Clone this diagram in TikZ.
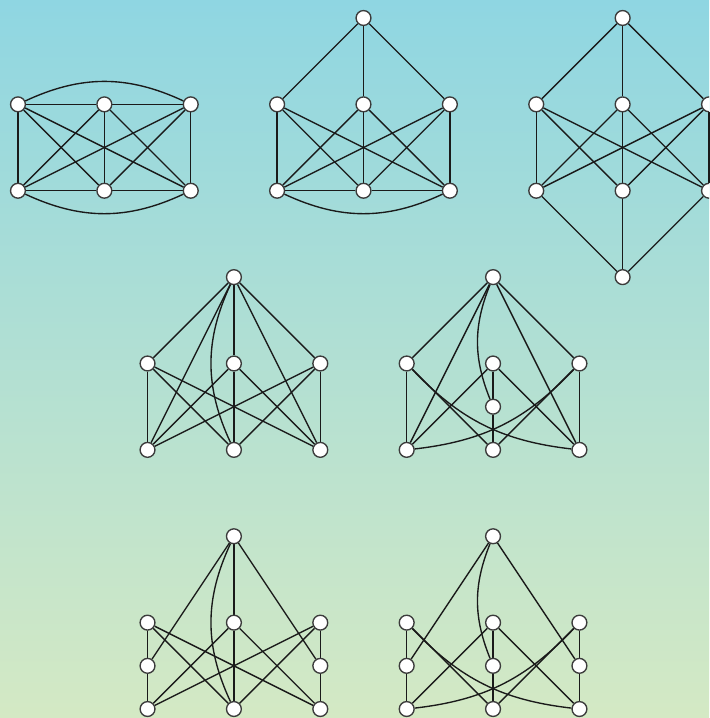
\documentclass[tikz,border=0pt]{standalone}
\usepackage{xcolor}
\usepackage{tikz}
\definecolor{skytop}{HTML}{8FD6E2}
\definecolor{meadow}{HTML}{D4E9C4}
\definecolor{ink}{HTML}{1A1A1A}
\pgfdeclarelayer{back}
\pgfdeclarelayer{edges}
\pgfsetlayers{back,edges,main}
\tikzset{
  vtx/.style={circle, draw=ink!85, line width=0.45pt, fill=white, inner sep=0pt, minimum size=1.72mm},
  edge/.style={draw=ink, line width=0.45pt}
}

\begin{document}
\begin{tikzpicture}
\useasboundingbox (-0.208,0.208) rectangle (8.0,-8.104);
\begin{pgfonlayer}{back}
\shade[top color=skytop, bottom color=meadow] (-0.208,0.208) rectangle (8.0,-8.104);
\end{pgfonlayer}
\clip (-0.208,0.208) rectangle (8.0,-8.104);

% first row: K6
\node[vtx] (a1) at (0,-1) {};
\node[vtx] (a2) at (1,-1) {};
\node[vtx] (a3) at (2,-1) {};
\node[vtx] (a4) at (0,-2) {};
\node[vtx] (a5) at (1,-2) {};
\node[vtx] (a6) at (2,-2) {};
\begin{pgfonlayer}{edges}
\foreach \u/\v in {a1/a2, a2/a3, a4/a5, a5/a6, a1/a4, a2/a5, a3/a6,
                   a1/a5, a1/a6, a2/a4, a2/a6, a3/a4, a3/a5}
  \draw[edge] (\u) -- (\v);
\draw[edge] (a1) to[bend left=25] (a3);
\draw[edge] (a4) to[bend right=25] (a6);
\end{pgfonlayer}

% apex over K33 with bottom triangle
\node[vtx] (b0) at (4,0) {};
\node[vtx] (b1) at (3,-1) {};
\node[vtx] (b2) at (4,-1) {};
\node[vtx] (b3) at (5,-1) {};
\node[vtx] (b4) at (3,-2) {};
\node[vtx] (b5) at (4,-2) {};
\node[vtx] (b6) at (5,-2) {};
\begin{pgfonlayer}{edges}
\foreach \u/\v in {b0/b1, b0/b2, b0/b3, b1/b4, b1/b5, b1/b6, b2/b4, b2/b5,
                   b2/b6, b3/b4, b3/b5, b3/b6, b4/b5, b5/b6}
  \draw[edge] (\u) -- (\v);
\draw[edge] (b4) to[bend right=25] (b6);
\end{pgfonlayer}

% K33 between two apexes
\node[vtx] (c0) at (7,0) {};
\node[vtx] (c1) at (6,-1) {};
\node[vtx] (c2) at (7,-1) {};
\node[vtx] (c3) at (8,-1) {};
\node[vtx] (c4) at (6,-2) {};
\node[vtx] (c5) at (7,-2) {};
\node[vtx] (c6) at (8,-2) {};
\node[vtx] (c7) at (7,-3) {};
\begin{pgfonlayer}{edges}
\foreach \u/\v in {c0/c1, c0/c2, c0/c3, c1/c4, c1/c5, c1/c6, c2/c4, c2/c5,
                   c2/c6, c3/c4, c3/c5, c3/c6, c4/c7, c5/c7, c6/c7}
  \draw[edge] (\u) -- (\v);
\end{pgfonlayer}

% second row
\node[vtx] (d0) at (2.5,-3) {};
\node[vtx] (d1) at (1.5,-4) {};
\node[vtx] (d2) at (2.5,-4) {};
\node[vtx] (d3) at (3.5,-4) {};
\node[vtx] (d4) at (1.5,-5) {};
\node[vtx] (d5) at (2.5,-5) {};
\node[vtx] (d6) at (3.5,-5) {};
\begin{pgfonlayer}{edges}
\foreach \u/\v in {d0/d1, d0/d2, d0/d3, d0/d4, d0/d6, d1/d4, d1/d5, d1/d6,
                   d2/d4, d2/d5, d2/d6, d3/d4, d3/d5, d3/d6}
  \draw[edge] (\u) -- (\v);
\draw[edge] (d0) to[bend right=25] (d5);
\end{pgfonlayer}

\node[vtx] (e0) at (5.5,-3) {};
\node[vtx] (e1) at (4.5,-4) {};
\node[vtx] (e2) at (5.5,-4) {};
\node[vtx] (e3) at (6.5,-4) {};
\node[vtx] (e7) at (5.5,-4.5) {};
\node[vtx] (e4) at (4.5,-5) {};
\node[vtx] (e5) at (5.5,-5) {};
\node[vtx] (e6) at (6.5,-5) {};
\begin{pgfonlayer}{edges}
\foreach \u/\v in {e0/e1, e0/e3, e0/e4, e0/e6, e1/e4, e1/e5, e2/e7, e7/e5,
                   e2/e4, e2/e6, e3/e6, e3/e5}
  \draw[edge] (\u) -- (\v);
\draw[edge] (e0) to[bend right=22] (e7);
\draw[edge] (e1) to[bend right=20] (e6);
\draw[edge] (e3) to[bend left=20] (e4);
\end{pgfonlayer}

% third row
\node[vtx] (f0) at (2.5,-6) {};
\node[vtx] (f1) at (1.5,-7) {};
\node[vtx] (f2) at (2.5,-7) {};
\node[vtx] (f3) at (3.5,-7) {};
\node[vtx] (f7) at (1.5,-7.5) {};
\node[vtx] (f8) at (3.5,-7.5) {};
\node[vtx] (f4) at (1.5,-8) {};
\node[vtx] (f5) at (2.5,-8) {};
\node[vtx] (f6) at (3.5,-8) {};
\begin{pgfonlayer}{edges}
\foreach \u/\v in {f0/f7, f0/f2, f0/f8, f1/f7, f7/f4, f1/f5, f1/f6, f2/f4,
                   f2/f5, f2/f6, f3/f8, f8/f6, f3/f4, f3/f5}
  \draw[edge] (\u) -- (\v);
\draw[edge] (f0) to[bend right=25] (f5);
\end{pgfonlayer}

\node[vtx] (g0) at (5.5,-6) {};
\node[vtx] (g1) at (4.5,-7) {};
\node[vtx] (g2) at (5.5,-7) {};
\node[vtx] (g3) at (6.5,-7) {};
\node[vtx] (g7) at (4.5,-7.5) {};
\node[vtx] (g8) at (5.5,-7.5) {};
\node[vtx] (g9) at (6.5,-7.5) {};
\node[vtx] (g4) at (4.5,-8) {};
\node[vtx] (g5) at (5.5,-8) {};
\node[vtx] (g6) at (6.5,-8) {};
\begin{pgfonlayer}{edges}
\foreach \u/\v in {g0/g7, g0/g9, g1/g7, g7/g4, g1/g5, g2/g8, g8/g5, g2/g4,
                   g2/g6, g3/g9, g9/g6, g3/g5}
  \draw[edge] (\u) -- (\v);
\draw[edge] (g0) to[bend right=22] (g8);
\draw[edge] (g1) to[bend right=20] (g6);
\draw[edge] (g3) to[bend left=20] (g4);
\end{pgfonlayer}
\end{tikzpicture}
\end{document}
